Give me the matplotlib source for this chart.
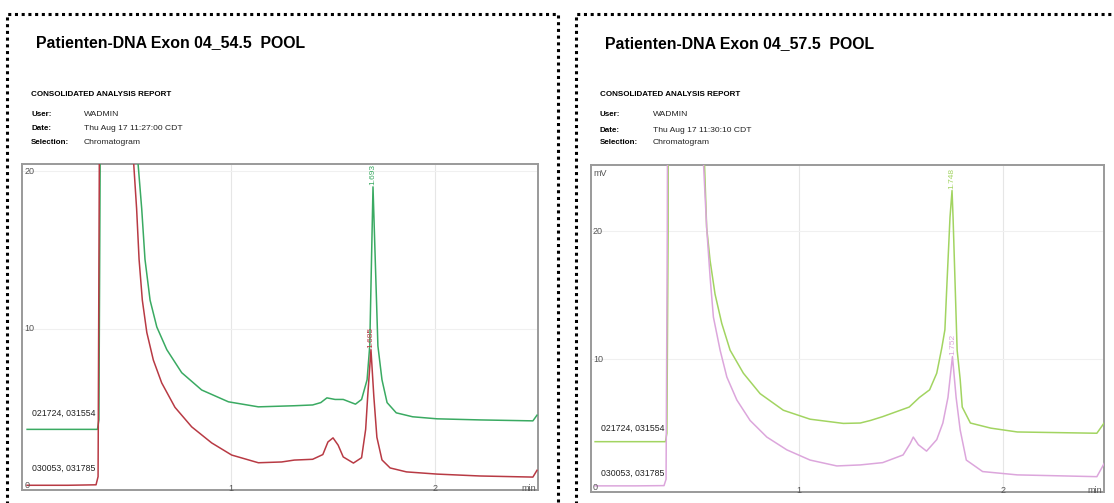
import matplotlib
matplotlib.use("Agg")
import matplotlib.pyplot as plt
from matplotlib.lines import Line2D

plt.rcParams['font.family'] = ['Liberation Sans', 'DejaVu Sans']

# ---------------- data ----------------
titles = ["Patienten-DNA Exon 04_54.5  POOL", "Patienten-DNA Exon 04_57.5  POOL"]
report_user = "WADMIN"
report_dates = ["Thu Aug 17 11:27:00 CDT", "Thu Aug 17 11:30:10 CDT"]
report_selection = "Chromatogram"
trace_names = ["021724, 031554", "030053, 031785"]

# left panel, upper trace (green)
L_up_t = [0.00, 0.20, 0.345, 0.352, 0.358, 0.362, 0.50, 0.542, 0.562, 0.578, 0.603, 0.636, 0.685,
          0.758, 0.856, 0.987, 1.134, 1.31, 1.40, 1.44, 1.47, 1.51, 1.55, 1.61, 1.64, 1.667,
          1.68, 1.696, 1.72, 1.74, 1.765, 1.81, 1.89, 2.01, 2.22, 2.48, 2.50]
L_up_v = [3.6, 3.6, 3.6, 4.2, 20.0, 60.0, 60.0, 20.8, 17.6, 14.4, 11.8, 10.1, 8.66,
          7.2, 6.1, 5.35, 5.03, 5.1, 5.15, 5.3, 5.6, 5.5, 5.5, 5.2, 5.5, 6.75,
          8.9, 19.0, 8.9, 6.75, 5.3, 4.65, 4.4, 4.27, 4.2, 4.14, 4.5]
# left panel, lower trace (red)
L_lo_t = [0.00, 0.20, 0.338, 0.348, 0.354, 0.36, 0.50, 0.521, 0.537, 0.549, 0.565, 0.587, 0.619,
          0.660, 0.725, 0.807, 0.905, 1.003, 1.134, 1.248, 1.31, 1.40, 1.45, 1.475, 1.50, 1.525,
          1.55, 1.60, 1.64, 1.66, 1.67, 1.686, 1.70, 1.715, 1.74, 1.78, 1.86, 2.01, 2.22, 2.48, 2.50]
L_lo_v = [0.05, 0.05, 0.08, 0.6, 20.0, 60.0, 60.0, 20.8, 17.6, 14.4, 11.8, 9.75, 8.0,
          6.55, 5.0, 3.76, 2.74, 1.97, 1.48, 1.53, 1.65, 1.7, 2.0, 2.8, 3.06, 2.6,
          1.85, 1.46, 1.8, 3.6, 5.7, 8.66, 5.7, 3.1, 1.66, 1.15, 0.9, 0.76, 0.64, 0.57, 1.0]
# right panel, upper trace (light green)
R_up_t = [0.00, 0.20, 0.345, 0.352, 0.358, 0.362, 0.50, 0.536, 0.547, 0.564, 0.588, 0.621, 0.662,
          0.727, 0.809, 0.923, 1.054, 1.217, 1.30, 1.35, 1.41, 1.54, 1.59, 1.64, 1.675, 1.70,
          1.715, 1.725, 1.74, 1.75, 1.755, 1.765, 1.775, 1.79, 1.80, 1.84, 1.94, 2.07, 2.46, 2.50]
R_up_v = [3.54, 3.54, 3.54, 4.2, 20.0, 60.0, 60.0, 25.5, 20.3, 17.7, 15.1, 12.8, 10.7,
          8.9, 7.3, 6.0, 5.3, 4.97, 5.0, 5.2, 5.5, 6.25, 7.0, 7.6, 8.9, 10.9,
          12.3, 15.9, 21.1, 23.2, 21.1, 15.9, 10.7, 8.4, 6.25, 5.0, 4.6, 4.3, 4.2, 5.1]
# right panel, lower trace (pink)
R_lo_t = [0.00, 0.20, 0.338, 0.348, 0.354, 0.36, 0.50, 0.531, 0.547, 0.564, 0.58, 0.613, 0.646,
          0.695, 0.76, 0.842, 0.94, 1.054, 1.185, 1.30, 1.41, 1.51, 1.545, 1.56, 1.585, 1.625,
          1.675, 1.705, 1.73, 1.752, 1.77, 1.79, 1.82, 1.90, 2.07, 2.46, 2.50]
R_lo_v = [0.08, 0.08, 0.1, 0.6, 20.0, 60.0, 60.0, 25.5, 20.3, 16.4, 13.3, 10.7, 8.6,
          6.8, 5.2, 3.9, 2.9, 2.1, 1.64, 1.72, 1.9, 2.5, 3.4, 3.9, 3.3, 2.8,
          3.7, 5.0, 7.0, 10.2, 7.0, 4.45, 2.1, 1.2, 0.94, 0.8, 1.95]

peaks_left = [(1.696, 19.0, "1.693"), (1.686, 8.66, "1.685")]
peaks_right = [(1.75, 23.2, "1.748"), (1.752, 10.2, "1.752")]

# ---------------- figure ----------------
W, H = 1114, 503
fig = plt.figure(figsize=(W / 100, H / 100), dpi=100)
fig.patch.set_facecolor("white")

def fx(px):
    return px / W

def fy(py):
    return 1 - py / H

# dotted frames
dot = dict(color="black", lw=2.2, linestyle=(0, (1, 1.2)), transform=fig.transFigure)
fig.add_artist(Line2D([fx(7), fx(7), fx(558), fx(558)], [fy(510), fy(14), fy(14), fy(510)], **dot))
fig.add_artist(Line2D([fx(576), fx(576), fx(1116)], [fy(510), fy(14), fy(14)], **dot))

def header(x0, xv, ys, title, date):
    fig.text(fx(x0 + 5), fy(ys[0]), title, fontsize=11.4, fontweight="bold", va="center", ha="left")
    fig.text(fx(x0), fy(ys[1]), "CONSOLIDATED ANALYSIS REPORT", fontsize=5.75, fontweight="bold",
             va="center", ha="left")
    for lab, val, y in [("User:", report_user, ys[2]), ("Date:", date, ys[3]),
                        ("Selection:", report_selection, ys[4])]:
        fig.text(fx(x0), fy(y), lab, fontsize=5.75, fontweight="bold", va="center", ha="left")
        fig.text(fx(xv), fy(y), val, fontsize=6.1, va="center", ha="left", color="#222222")

header(31, 84, [43, 94, 114, 129, 142], titles[0], report_dates[0])
header(600, 653, [44, 95, 115, 130, 143], titles[1], report_dates[1])

def panel(box, xlim, ylim, up, lo, c_up, c_lo, peaks, yticks, label_y, top_label):
    l, t, r, b = box
    ax = fig.add_axes([fx(l), fy(b), fx(r - l), (b - t) / H])
    ax.set_xlim(*xlim)
    ax.set_ylim(*ylim)
    for s in ax.spines.values():
        s.set_color("#9a9a9a")
        s.set_linewidth(1.4)
    ax.set_xticks([])
    ax.set_yticks([])
    for xv in [1, 2]:
        ax.axvline(xv, color="#e6e6e6", lw=0.8, zorder=0)
    for yv in yticks:
        if yv > 0:
            ax.axhline(yv, color="#f0f0f0", lw=0.8, zorder=0)
    ax.plot(up[0], up[1], color=c_up, lw=1.1, zorder=3, solid_joinstyle="round")
    ax.plot(lo[0], lo[1], color=c_lo, lw=1.1, zorder=3, solid_joinstyle="round")
    tr = ax.get_yaxis_transform()
    for yv in yticks:
        ax.text(0.004, yv, str(yv), transform=tr, fontsize=6.5, color="#555555",
                ha="left", va="center")
    if top_label:
        ax.text(0.004, ylim[1] - (ylim[1] - ylim[0]) * 0.025, top_label, transform=tr, fontsize=6.5,
                color="#555555", ha="left", va="center")
    trx = ax.get_xaxis_transform()
    ax.text(-0.012, 0.015, "0", transform=trx, fontsize=6.5, color="#555555", ha="left", va="center")
    for xv in [1, 2]:
        ax.text(xv, 0.005, str(xv), transform=trx, fontsize=6.5, color="#555555", ha="center", va="center")
    ax.text(0.997, 0.005, "min", transform=ax.transAxes, fontsize=6.5, color="#555555",
            ha="right", va="center")
    ax.text(0.02, label_y[0], trace_names[0], transform=tr, fontsize=6.3, color="#222222",
            ha="left", va="center")
    ax.text(0.02, label_y[1], trace_names[1], transform=tr, fontsize=6.3, color="#222222",
            ha="left", va="center")
    for (pt, pv, lab), c in zip(peaks, [c_up, c_lo]):
        ax.text(pt, pv + (ylim[1] - ylim[0]) * 0.005, lab, rotation=90, fontsize=6.0, color=c,
                ha="center", va="bottom", zorder=4)
    return ax

panel((22, 164, 538, 490), (-0.025, 2.505), (-0.25, 20.45),
      (L_up_t, L_up_v), (L_lo_t, L_lo_v), "#3aaa62", "#b83a44",
      peaks_left, [10, 20], (4.65, 1.15), None)
panel((591, 165, 1104, 492), (-0.02, 2.495), (-0.4, 25.2),
      (R_up_t, R_up_v), (R_lo_t, R_lo_v), "#a2d461", "#dca6dc",
      peaks_right, [10, 20], (4.6, 1.1), "mV")

fig.savefig("out.png", dpi=100, facecolor="white")
